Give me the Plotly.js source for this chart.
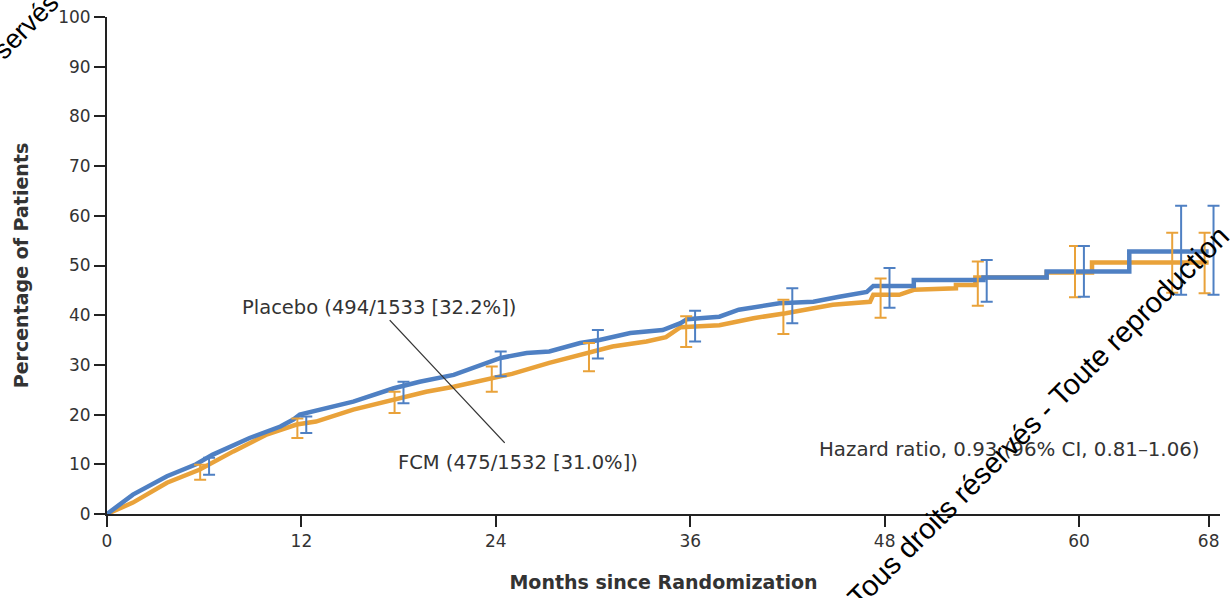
<!DOCTYPE html>
<html>
<head>
<meta charset="utf-8">
<script src="https://cdn.plot.ly/plotly-3.0.1.min.js"></script>
<style>
  html, body { margin: 0; padding: 0; background: #ffffff; }
  #chart { width: 1230px; height: 598px; }
</style>
</head>
<body>
<div id="chart"></div>
<script>
// Cumulative incidence curves, FCM vs placebo.
// Dense early events are traced as a polyline; late single events appear as explicit vertical jumps.
const placeboMonths = [0, 1.6, 3.7, 4.9, 5.5, 6.5, 8.8, 10.7, 11.5, 11.9, 13.1, 15.2, 17.7, 19.3, 21.4, 23, 24.3, 25.9, 27.3, 29.2, 30.4, 32.3, 34.3, 35.4, 35.8, 37.8, 39.0, 41.5, 43.6, 45.2, 46.4, 46.9, 47.3, 49.8, 49.8, 54.1, 54.1, 58.0, 58.0, 63.1, 63.1, 68];
const placeboPct = [0, 3.9, 7.6, 9.2, 10.0, 11.9, 15.3, 17.6, 19.0, 20.0, 21.0, 22.6, 25.3, 26.6, 28.0, 30.0, 31.4, 32.4, 32.7, 34.4, 35.0, 36.4, 37.0, 38.4, 39.2, 39.7, 41.1, 42.4, 42.7, 43.7, 44.4, 44.7, 45.9, 45.9, 47.1, 47.1, 47.6, 47.6, 48.8, 48.8, 52.8, 52.8];

const fcmMonths = [0, 1.6, 3.7, 5.7, 7.8, 9.8, 11.7, 12.9, 15.2, 17.7, 19.7, 21.4, 23.8, 25, 27.3, 29.2, 31.2, 33.3, 34.5, 35.4, 37.8, 39.9, 41.9, 44.8, 47.1, 47.3, 48.9, 49.8, 52.4, 52.4, 53.6, 53.6, 58, 58, 60.8, 60.8, 68];
const fcmPct = [0, 2.3, 6.3, 8.9, 12.6, 15.9, 18.0, 18.6, 21.0, 23.0, 24.6, 25.6, 27.3, 28.2, 30.4, 32.0, 33.7, 34.7, 35.6, 37.6, 38.0, 39.4, 40.4, 42.1, 42.7, 44.1, 44.1, 45.1, 45.4, 46.1, 46.1, 47.6, 47.6, 48.6, 48.6, 50.6, 50.6];

// 95% confidence limits at landmark months
const ciMonths = [6, 12, 18, 24, 30, 36, 42, 48, 54, 60, 66, 68];
const fcmLow = [6.9, 15.3, 20.3, 24.6, 28.7, 33.6, 36.2, 39.5, 41.9, 43.6, 44.5, 44.4];
const fcmHigh = [9.9, 19.2, 24.6, 29.7, 34.4, 39.8, 43.1, 47.4, 50.8, 53.9, 56.6, 56.6];
const placeboLow = [7.9, 16.3, 22.3, 27.7, 31.3, 34.7, 38.4, 41.5, 42.7, 43.7, 44.1, 44.1];
const placeboHigh = [11.3, 19.6, 26.6, 32.7, 37.0, 40.9, 45.4, 49.5, 51.1, 53.9, 62.0, 62.0];

const xTicks = [0, 12, 24, 36, 48, 60, 68];
const yTicks = [0, 10, 20, 30, 40, 50, 60, 70, 80, 90, 100];

const placeboLabel = 'Placebo (494/1533 [32.2%])';
const fcmLabel = 'FCM (475/1532 [31.0%])';
const hazardLabel = 'Hazard ratio, 0.93 (96% CI, 0.81\u20131.06)';
const copyrightText = 'Tous droits réservés - Toute reproduction';
const copyrightTail = 'servés';

const BLUE = '#4f80c3';
const ORANGE = '#e9a23a';
const INK = '#333333';
const FONT = 'DejaVu Sans, Verdana, sans-serif';
const STAMP_FONT = 'Liberation Sans, Arial, sans-serif';

// plot-area geometry (pixels) used to place free-floating text
const W = 1230, H = 598;
const M = { l: 107, r: 10, t: 17, b: 84 };
const PW = W - M.l - M.r, PH = H - M.t - M.b;
const px = x => (x - M.l) / PW;
const py = y => (H - M.b - y) / PH;

function ciTrace(months, low, high, color, shift) {
  const half = low.map((lo, i) => (high[i] - lo) / 2);
  return {
    x: months.map(m => m + shift),
    y: low.map((lo, i) => lo + half[i]),
    type: 'scatter',
    mode: 'markers',
    marker: { size: 1, opacity: 0 },
    error_y: { type: 'data', symmetric: true, array: half, color: color, thickness: 2, width: 6 },
    hoverinfo: 'skip',
    showlegend: false
  };
}

const traces = [
  {
    x: fcmMonths, y: fcmPct, type: 'scatter', mode: 'lines',
    line: { color: ORANGE, width: 4.5 }, name: 'FCM', showlegend: false
  },
  {
    x: placeboMonths, y: placeboPct, type: 'scatter', mode: 'lines',
    line: { color: BLUE, width: 4.5 }, name: 'Placebo', showlegend: false
  },
  ciTrace(ciMonths, fcmLow, fcmHigh, ORANGE, -0.25),
  ciTrace(ciMonths, placeboLow, placeboHigh, BLUE, 0.3)
];

const layout = {
  width: W, height: H,
  margin: M,
  paper_bgcolor: '#ffffff',
  plot_bgcolor: '#ffffff',
  font: { family: FONT, color: INK },
  showlegend: false,
  xaxis: {
    range: [0, 68.7],
    tickvals: xTicks,
    ticktext: xTicks.map(String),
    ticks: 'outside', ticklen: 11, tickwidth: 2, tickcolor: '#222',
    showline: true, linecolor: '#222', linewidth: 2,
    showgrid: false, zeroline: false,
    tickfont: { family: FONT, size: 17, color: INK },
    title: { text: '<b>Months since Randomization</b>', font: { family: FONT, size: 19, color: INK }, standoff: 25 }
  },
  yaxis: {
    range: [0, 100],
    tickvals: yTicks,
    ticks: 'outside', ticklen: 11, tickwidth: 2, tickcolor: '#222',
    showline: true, linecolor: '#222', linewidth: 2,
    showgrid: false, zeroline: false,
    tickfont: { family: FONT, size: 17, color: INK },
    title: { text: '<b>Percentage of Patients</b>', font: { family: FONT, size: 19, color: INK }, standoff: 24 }
  },
  shapes: [
    { type: 'line', xref: 'x', yref: 'y', x0: 17.45, y0: 39.0, x1: 24.55, y1: 14.3,
      line: { color: '#333', width: 1.3 } }
  ],
  annotations: [
    { xref: 'x', yref: 'y', x: 8.2, y: 41.5, xanchor: 'left', yanchor: 'middle', showarrow: false,
      text: placeboLabel, font: { family: FONT, size: 19.5, color: INK } },
    { xref: 'x', yref: 'y', x: 17.85, y: 10.3, xanchor: 'left', yanchor: 'middle', showarrow: false,
      text: fcmLabel, font: { family: FONT, size: 19.5, color: INK } },
    { xref: 'x', yref: 'y', x: 43.8, y: 12.9, xanchor: 'left', yanchor: 'middle', showarrow: false,
      text: hazardLabel, font: { family: FONT, size: 19.8, color: INK } },
    { xref: 'paper', yref: 'paper', x: px(1038), y: py(417), xanchor: 'center', yanchor: 'middle',
      showarrow: false, textangle: -45, text: copyrightText,
      font: { family: STAMP_FONT, size: 29, color: '#000' } },
    { xref: 'paper', yref: 'paper', x: px(26), y: py(26), xanchor: 'center', yanchor: 'middle',
      showarrow: false, textangle: -45, text: copyrightTail,
      font: { family: STAMP_FONT, size: 27, color: '#000' } }
  ]
};

Plotly.newPlot('chart', traces, layout, { displayModeBar: false, staticPlot: true });
</script>
</body>
</html>
